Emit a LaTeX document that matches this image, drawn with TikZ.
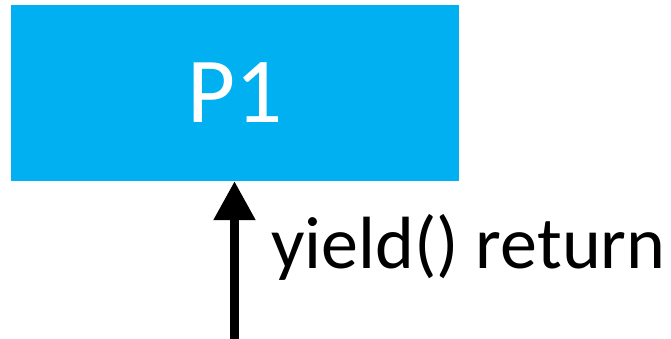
\documentclass[tikz,border=0pt]{standalone}
\usepackage{fontspec}
\setmainfont{Carlito}
\usetikzlibrary{arrows.meta}
\definecolor{pblue}{HTML}{00B0F0}
\tikzset{
  procbox/.style={fill=pblue, draw=none, minimum width=448pt, minimum height=176pt, inner sep=0pt,
    text=white, font=\fontsize{93}{100}\selectfont},
  uparrow/.style={line width=8.5pt, -{Triangle[length=39pt,width=40pt]}},
  lbl/.style={font=\fontsize{74}{80}\selectfont, inner sep=0pt}
}
\begin{document}
\begin{tikzpicture}[x=1pt,y=-1pt]
\useasboundingbox (0,0) rectangle (671,339);
\node[procbox] (box) at (235,93) {P1};
\coordinate (start) at (234.5,339);
\draw[uparrow] (start) -- (start |- box.south);
\node[lbl, anchor=base west] (label) at (271,268) {yield() return};
\end{tikzpicture}
\end{document}
